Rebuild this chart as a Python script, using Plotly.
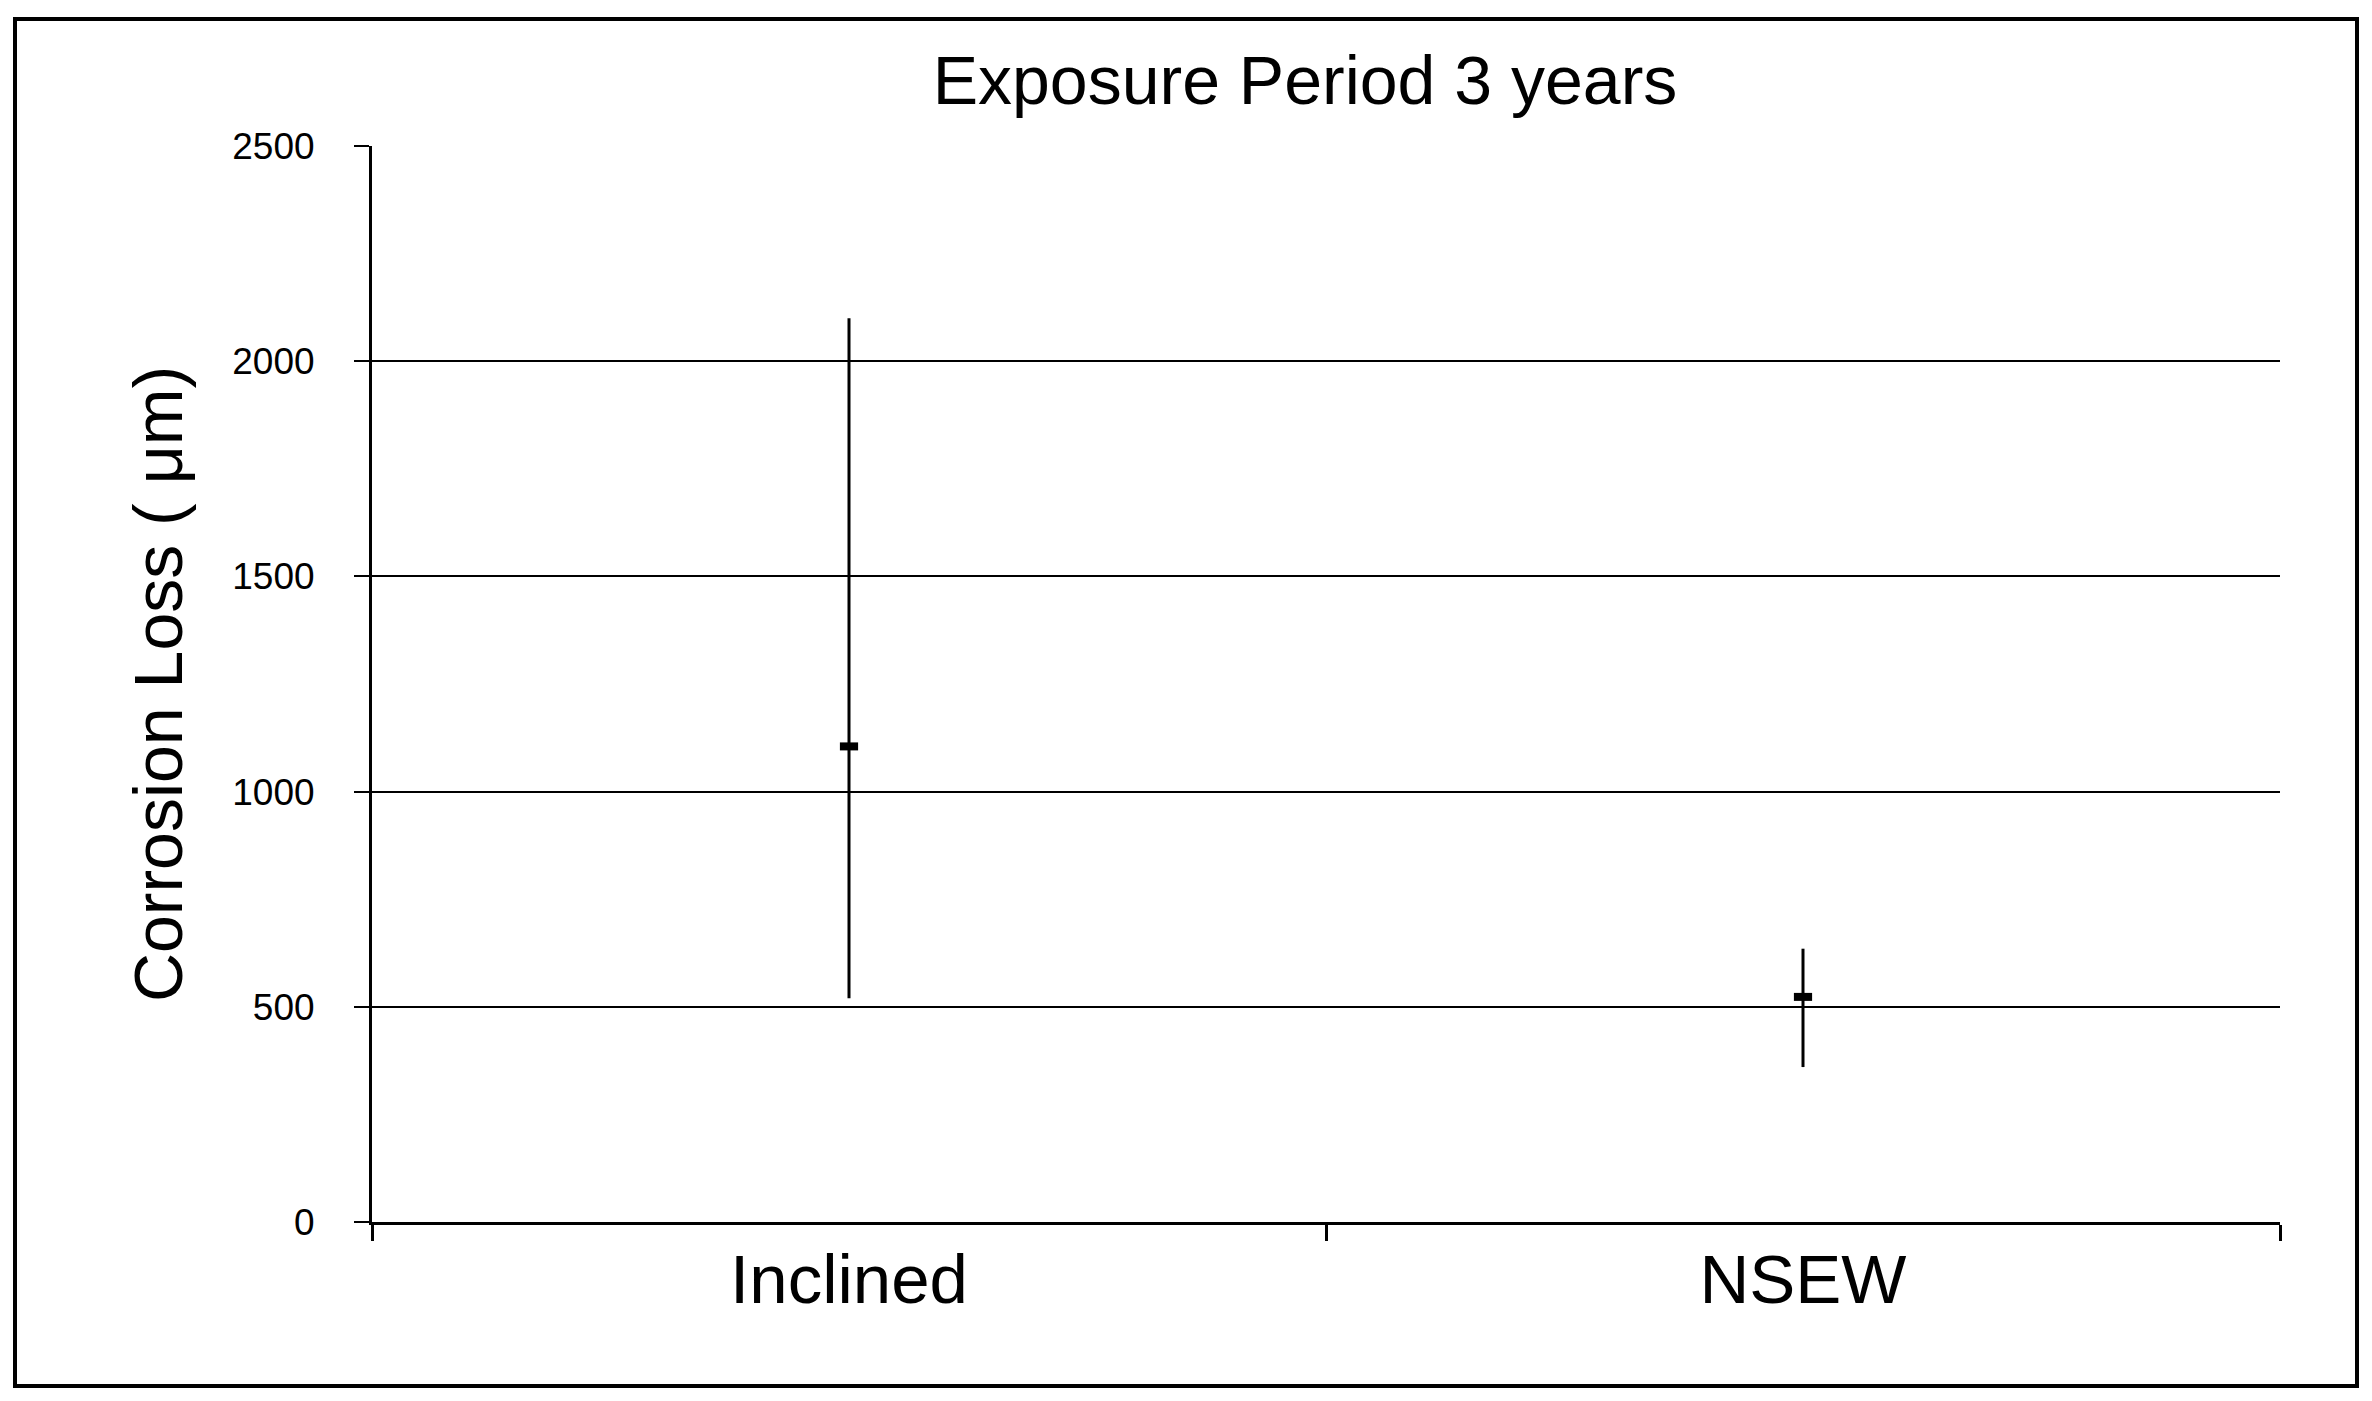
import plotly.graph_objects as go

# data
categories = ['Inclined', 'NSEW']
mean_loss = [1105, 523]
upper_loss = [2100, 635]
lower_loss = [520, 360]
y_ticks = [0, 500, 1000, 1500, 2000, 2500]

err_plus = [u - m for u, m in zip(upper_loss, mean_loss)]
err_minus = [m - l for m, l in zip(mean_loss, lower_loss)]

font_family = 'Liberation Sans, Arial, sans-serif'

fig = go.Figure()
fig.add_trace(go.Scatter(
    x=categories,
    y=mean_loss,
    mode='markers',
    marker=dict(symbol='line-ew', size=13, line=dict(width=8, color='black'), color='black'),
    error_y=dict(type='data', symmetric=False, array=err_plus, arrayminus=err_minus,
                 color='black', thickness=3, width=0),
    showlegend=False,
))

fig.update_layout(
    width=2372,
    height=1401,
    margin=dict(l=372, r=92, t=146, b=179),
    paper_bgcolor='white',
    plot_bgcolor='white',
    font=dict(family=font_family, color='black'),
    title=dict(text='Exposure Period 3 years', x=0.489, xref='paper', xanchor='center',
               y=1 - 80 / 1401, yanchor='middle', font=dict(size=68, color='black')),
    xaxis=dict(
        type='category',
        tickson='boundaries',
        ticks='outside',
        ticklen=16,
        tickwidth=3,
        tickcolor='black',
        showline=True,
        linecolor='black',
        linewidth=3,
        showgrid=False,
        tickfont=dict(size=69),
        ticklabelstandoff=-5,
        range=[-0.5, 1.5],
    ),
    yaxis=dict(
        range=[0, 2500],
        tickvals=y_ticks,
        ticks='outside',
        ticklen=15,
        tickwidth=2,
        tickcolor='black',
        showline=True,
        linecolor='black',
        linewidth=3,
        showgrid=True,
        gridcolor='black',
        gridwidth=2,
        zeroline=False,
        tickfont=dict(size=37),
        ticklabelstandoff=32,
        title=dict(text='Corrosion Loss ( \u03bcm)', font=dict(size=68), standoff=28),
    ),
)

# outer frame around the whole chart
fig.add_shape(type='rect', xref='paper', yref='paper',
              x0=(15 - 372) / 1908, x1=(2357 - 372) / 1908,
              y0=(1222 - 1386) / 1076, y1=(1222 - 19) / 1076,
              line=dict(color='black', width=4), fillcolor='rgba(0,0,0,0)', layer='below')

fig.write_html('out.html', config={'displayModeBar': False},
               post_script="document.body.style.margin='0';")
